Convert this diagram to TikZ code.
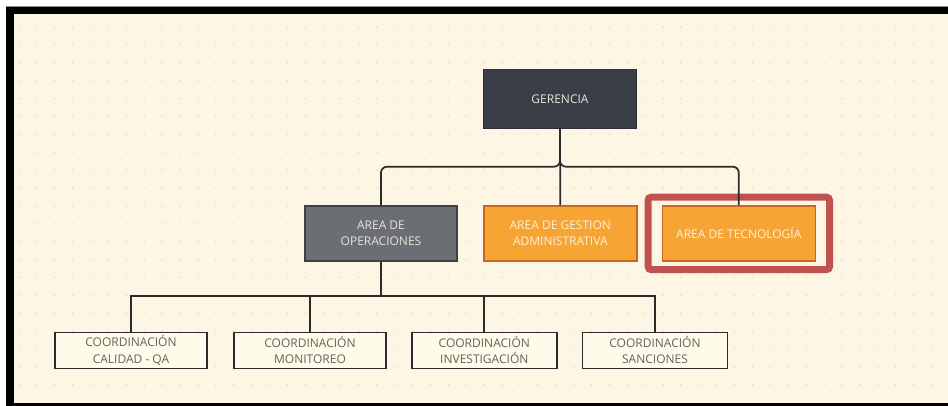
\documentclass[tikz,border=0pt]{standalone}
\usepackage{fontspec}
\setmainfont{Open Sans}
\usetikzlibrary{fit}
\definecolor{paper}{HTML}{FDF6E4}
\definecolor{griddot}{HTML}{F5D9CD}
\definecolor{ink}{HTML}{2B2B2B}
\definecolor{darkbox}{HTML}{3A3F47}
\definecolor{darkedge}{HTML}{2C3036}
\definecolor{greybox}{HTML}{6B6E73}
\definecolor{greyedge}{HTML}{3C4047}
\definecolor{orangebox}{HTML}{F6A434}
\definecolor{orangeedge}{HTML}{C7661C}
\definecolor{coordfill}{HTML}{FFFBEA}
\definecolor{coordtext}{HTML}{6A6156}
\definecolor{lighttext}{HTML}{E8E4DA}
\definecolor{orangetext}{HTML}{FDF0D8}
\definecolor{highlight}{HTML}{C1514E}
\tikzset{
  unitbox/.style={draw, line width=1.4pt, align=center, inner sep=0pt,
    font=\fontsize{12}{16.5}\selectfont},
  headbox/.style={unitbox, fill=darkbox, draw=darkedge, text=lighttext,
    minimum width=153pt, minimum height=59pt},
  opsbox/.style={unitbox, fill=greybox, draw=greyedge, text=lighttext,
    minimum width=152pt, minimum height=55pt},
  areabox/.style={unitbox, fill=orangebox, draw=orangeedge, text=orangetext,
    minimum width=153pt, minimum height=55pt},
  coordbox/.style={unitbox, fill=coordfill, draw=ink, text=coordtext,
    minimum height=36pt},
  conn/.style={draw=ink, line width=1.7pt},
}
\begin{document}
\begin{tikzpicture}[x=1pt,y=-1pt]
  \useasboundingbox (0,0) rectangle (948,406);
  % frame and canvas
  \fill[white] (0,0) rectangle (948,406);
  \fill[black!45] (6,6) rectangle (948,7);
  \fill[black] (6,7) rectangle (948,406);
  \fill[paper] (14,14) rectangle (948,403);
  % dotted grid
  \foreach \i in {0,...,52} {
    \foreach \j in {0,...,20} {
      \fill[griddot] ({19+17.89*\i},{27+17.89*\j}) circle (1pt);
    }
  }
  % units
  \node[headbox] (ger) at (560,98.8) {GERENCIA};
  \node[opsbox]  (ope) at (381,233.4) {AREA DE\\OPERACIONES};
  \node[areabox] (ges) at (560.3,233.4) {AREA DE GESTION\\ADMINISTRATIVA};
  \node[areabox] (tec) at (738.8,233.4) {AREA DE TECNOLOGÍA};
  \node[coordbox, minimum width=152pt] (c1) at (131,350.2) {COORDINACIÓN\\CALIDAD - QA};
  \node[coordbox, minimum width=152pt] (c2) at (310,350.2) {COORDINACIÓN\\MONITOREO};
  \node[coordbox, minimum width=145pt] (c3) at (484.3,350.2) {COORDINACIÓN\\INVESTIGACIÓN};
  \node[coordbox, minimum width=145pt] (c4) at (655,350.2) {COORDINACIÓN\\SANCIONES};
  % highlight around the technology area
  \node[fit=(tec), inner xsep=13.5pt, inner ysep=8pt, draw=highlight,
        line width=7pt, rounded corners=3pt] (hl) {};
  % connectors from management
  \coordinate (j) at (560,166.7);
  \draw[conn, rounded corners=6pt] (ope.north) |- (j) -- (ger.south);
  \draw[conn, rounded corners=6pt] (tec.north) |- (j) -- (ger.south);
  \draw[conn] (ger.south) -- (ges.north);
  % connectors to the coordinations
  \coordinate (bar) at (381,295.7);
  \draw[conn] (ope.south) -- (bar);
  \draw[conn] (c1.north) |- (bar) -| (c4.north);
  \draw[conn] (c2.north) -- (c2.north |- bar);
  \draw[conn] (c3.north) -- (c3.north |- bar);
\end{tikzpicture}
\end{document}
